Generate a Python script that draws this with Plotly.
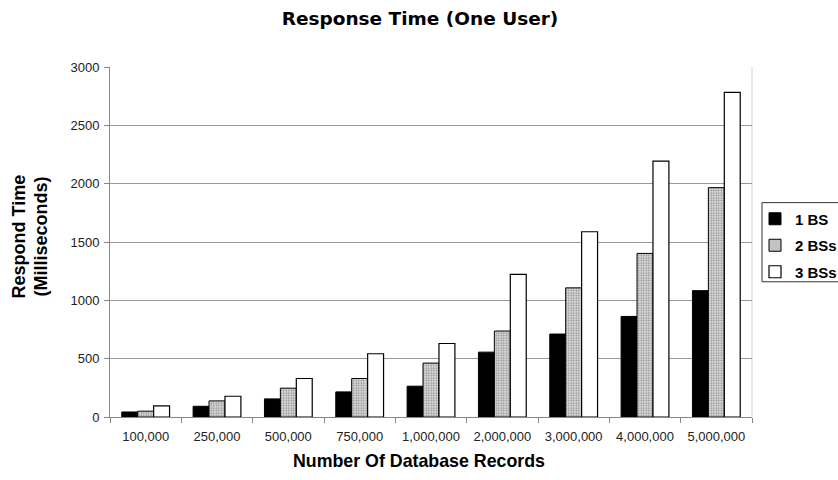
import plotly.graph_objects as go

categories = ["100,000", "250,000", "500,000", "750,000", "1,000,000",
              "2,000,000", "3,000,000", "4,000,000", "5,000,000"]
bs1 = [43, 92, 155, 215, 264, 556, 711, 862, 1083]
bs2 = [50, 138, 247, 330, 462, 737, 1107, 1402, 1966]
bs3 = [95, 178, 330, 542, 630, 1223, 1588, 2193, 2783]
y_ticks = [0, 500, 1000, 1500, 2000, 2500, 3000]

FONT = "Arial, Liberation Sans, sans-serif"
WIDE = "DejaVu Sans, Arial, sans-serif"

fig = go.Figure()
fig.add_trace(go.Bar(
    name="1 BS", x=categories, y=bs1, legendgroup="a",
    marker=dict(color="black", line=dict(color="black", width=1)),
))
fig.add_trace(go.Bar(
    name="2 BSs", x=categories, y=bs2, legendgroup="b",
    marker=dict(color="white", line=dict(color="black", width=1),
                pattern=dict(shape=".", fgcolor="#3a3a3a", bgcolor="#e6e6e6",
                             size=2.5, solidity=0.45)),
))
fig.add_trace(go.Bar(
    name="3 BSs", x=categories, y=bs3, legendgroup="c",
    marker=dict(color="white", line=dict(color="black", width=1.2)),
))

fig.update_layout(
    width=838, height=480,
    margin=dict(l=110, r=86, t=67, b=63, autoexpand=False),
    paper_bgcolor="white", plot_bgcolor="white",
    font=dict(family=FONT, size=13, color="black"),
    barmode="group", bargap=0.33, bargroupgap=0,
    title=dict(text="<b>Response Time (One User)</b>", x=(420 - 110) / 642,
               xref="paper", xanchor="center", y=1 - 18.5 / 480, yanchor="middle",
               font=dict(family=WIDE, size=18.5, color="black")),
    legend=dict(x=(755 - 110) / 642, y=(416.7 - 245.5) / 349.4,
                xanchor="left", yanchor="middle",
                borderwidth=0, bgcolor="rgba(0,0,0,0)",
                font=dict(family=FONT, size=15, color="black", weight="bold"),
                itemwidth=30, traceorder="grouped", tracegroupgap=4),
    showlegend=True,
    shapes=[
        # legend frame
        dict(type="rect", xref="paper", yref="paper",
             x0=(762 - 110) / 642, x1=(845 - 110) / 642,
             y0=(416.7 - 281.7) / 349.4, y1=(416.7 - 202.7) / 349.4,
             line=dict(color="#333333", width=1), fillcolor="rgba(0,0,0,0)",
             layer="above"),
        # faint right edge of the plot area
        dict(type="line", xref="paper", yref="paper", x0=1, x1=1, y0=0, y1=1,
             line=dict(color="#d0d0d0", width=1), layer="below"),
    ],
    annotations=[
        dict(text="<b>Number Of Database Records</b>", xref="paper", yref="paper",
             x=(419 - 110) / 642, y=(416.7 - 460.5) / 349.4,
             xanchor="center", yanchor="middle", showarrow=False,
             font=dict(family=FONT, size=17.8, color="black")),
        dict(text="<b>Respond Time</b>", xref="paper", yref="paper",
             x=(19 - 110) / 642, y=(416.7 - 236.5) / 349.4, textangle=-90,
             xanchor="center", yanchor="middle", showarrow=False,
             font=dict(family=FONT, size=18, color="black")),
        dict(text="<b>(Milliseconds)</b>", xref="paper", yref="paper",
             x=(41 - 110) / 642, y=(416.7 - 236.5) / 349.4, textangle=-90,
             xanchor="center", yanchor="middle", showarrow=False,
             font=dict(family=FONT, size=18, color="black")),
    ],
)
fig.update_xaxes(
    type="category", showline=True, linecolor="#888888", linewidth=1,
    ticks="outside", tickson="boundaries", ticklen=5, tickcolor="#888888",
    tickfont=dict(family=FONT, size=13, color="#222222"), ticklabelstandoff=7,
    showgrid=False,
)
fig.update_yaxes(
    range=[0, 3000], tickvals=y_ticks, showline=True, linecolor="#888888",
    linewidth=1, ticks="outside", ticklen=5, tickcolor="#888888",
    tickfont=dict(family=FONT, size=13, color="#222222"), ticklabelstandoff=2,
    showgrid=True, gridcolor="#999999", gridwidth=1, zeroline=False,
)

fig.write_html("out.html")
